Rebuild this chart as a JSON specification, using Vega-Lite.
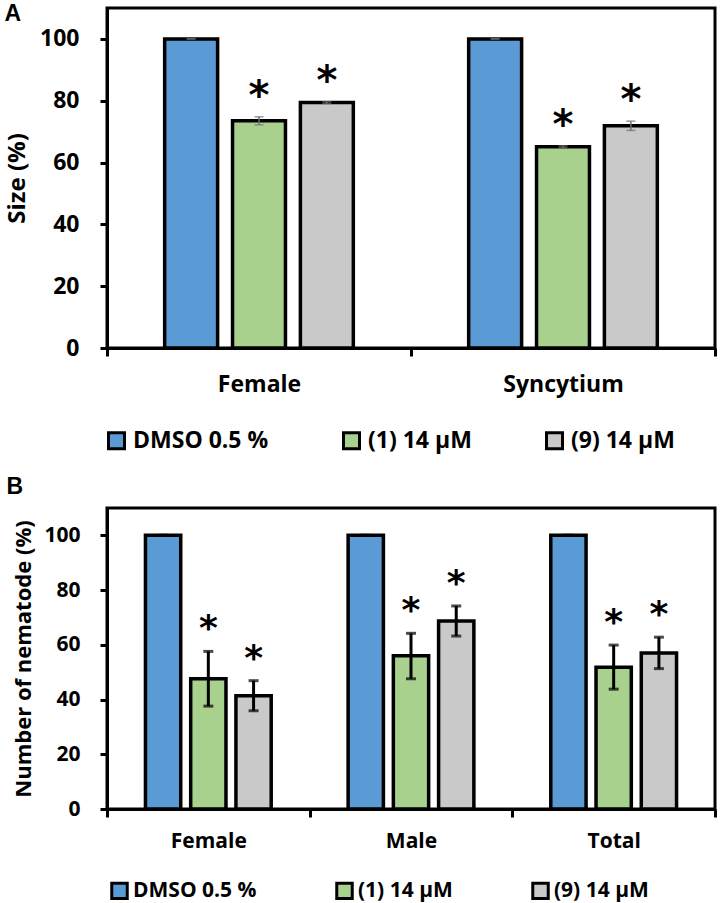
{
  "$schema": "https://vega.github.io/schema/vega-lite/v6.json",
  "padding": {"left": 2, "top": 0, "right": 0, "bottom": 25},
  "background": "white",
  "spacing": 160,
  "bounds": "flush",
  "resolve": {"scale": {"color": "independent", "xOffset": "independent", "x": "independent", "y": "independent"}, "legend": {"color": "independent"}},
  "datasets": {
    "a": [
      {"category": "Female", "treatment": "DMSO 0.5 %", "value": 100, "lo": 100, "hi": 100, "sig": ""},
      {"category": "Female", "treatment": "(1) 14 µM", "value": 73.5, "lo": 72.2, "hi": 74.8, "sig": "*"},
      {"category": "Female", "treatment": "(9) 14 µM", "value": 79.4, "lo": 79.1, "hi": 79.7, "sig": "*"},
      {"category": "Syncytium", "treatment": "DMSO 0.5 %", "value": 100, "lo": 100, "hi": 100, "sig": ""},
      {"category": "Syncytium", "treatment": "(1) 14 µM", "value": 65.1, "lo": 64.8, "hi": 65.4, "sig": "*"},
      {"category": "Syncytium", "treatment": "(9) 14 µM", "value": 71.9, "lo": 70.4, "hi": 73.4, "sig": "*"}
    ],
    "b": [
      {"category": "Female", "treatment": "DMSO 0.5 %", "value": 100, "lo": 100, "hi": 100, "sig": ""},
      {"category": "Female", "treatment": "(1) 14 µM", "value": 47.6, "lo": 37.6, "hi": 57.6, "sig": "*"},
      {"category": "Female", "treatment": "(9) 14 µM", "value": 41.4, "lo": 35.9, "hi": 46.9, "sig": "*"},
      {"category": "Male", "treatment": "DMSO 0.5 %", "value": 100, "lo": 100, "hi": 100, "sig": ""},
      {"category": "Male", "treatment": "(1) 14 µM", "value": 56.0, "lo": 47.6, "hi": 64.2, "sig": "*"},
      {"category": "Male", "treatment": "(9) 14 µM", "value": 68.7, "lo": 63.2, "hi": 74.2, "sig": "*"},
      {"category": "Total", "treatment": "DMSO 0.5 %", "value": 100, "lo": 100, "hi": 100, "sig": ""},
      {"category": "Total", "treatment": "(1) 14 µM", "value": 51.8, "lo": 43.8, "hi": 59.9, "sig": "*"},
      {"category": "Total", "treatment": "(9) 14 µM", "value": 57.0, "lo": 51.3, "hi": 62.8, "sig": "*"}
    ]
  },
  "vconcat": [
    {
      "width": 608,
      "height": 340,
      "data": {"name": "a"},
      "encoding": {
        "x": {"field": "category", "type": "nominal", "sort": ["Female", "Syncytium"],
              "scale": {"paddingInner": 0, "paddingOuter": 0},
              "axis": {"title": "A", "titleX": -103, "titleY": -328, "titleAngle": 0, "titleAlign": "left", "titleBaseline": "alphabetic",
                       "titleFont": "Liberation Sans", "titleFontSize": 23,
                       "labelAngle": 0, "tickBand": "extent", "tickSize": 8, "labelPadding": 17, "labelFontSize": 23}},
        "xOffset": {"field": "treatment", "type": "nominal", "sort": ["DMSO 0.5 %", "(1) 14 µM", "(9) 14 µM"],
                    "scale": {"paddingInner": 0.22, "paddingOuter": 0.85}}
      },
      "layer": [
        {
          "mark": {"type": "bar", "stroke": "black", "strokeWidth": 3.5},
          "encoding": {
            "y": {"field": "value", "type": "quantitative",
                  "scale": {"domain": [0, 110], "nice": false},
                  "axis": {"title": "Size (%)", "values": [0, 20, 40, 60, 80, 100], "tickSize": 7, "labelPadding": 21, "labelFontSize": 23, "titleFontSize": 24, "titlePadding": 10}},
            "color": {"field": "treatment", "type": "nominal",
                      "scale": {"domain": ["DMSO 0.5 %", "(1) 14 µM", "(9) 14 µM"], "range": ["#5B9BD5", "#A9D18E", "#C9C9C9"]},
                      "legend": {"title": null, "orient": "none", "direction": "horizontal", "legendX": -2, "legendY": 421,
                                 "symbolType": "square", "symbolSize": 256, "symbolStrokeColor": "black", "symbolStrokeWidth": 3,
                                 "labelFontSize": 23, "labelFont": "Open Sans", "labelFontWeight": "bold", "labelColor": "black",
                                 "columnPadding": 68, "labelOffset": 5, "padding": 0, "labelLimit": 300}}
          }
        },
        {
          "mark": {"type": "rule", "color": "#6f6f6f", "strokeWidth": 1.5},
          "encoding": {"y": {"field": "lo", "type": "quantitative"}, "y2": {"field": "hi"}}
        },
        {
          "mark": {"type": "tick", "orient": "horizontal", "size": 9, "thickness": 1.5, "color": "#6f6f6f"},
          "encoding": {"y": {"field": "hi", "type": "quantitative"}}
        },
        {
          "mark": {"type": "tick", "orient": "horizontal", "size": 9, "thickness": 1.5, "color": "#6f6f6f"},
          "encoding": {"y": {"field": "lo", "type": "quantitative"}}
        },
        {
          "transform": [{"filter": "datum.sig == '*'"}],
          "mark": {"type": "text", "font": "DejaVu Sans", "fontWeight": "bold", "fontSize": 40, "color": "black", "baseline": "alphabetic", "dy": -8},
          "encoding": {"y": {"field": "hi", "type": "quantitative"}, "text": {"field": "sig"}}
        }
      ]
    },
    {
      "width": 608,
      "height": 301,
      "data": {"name": "b"},
      "encoding": {
        "x": {"field": "category", "type": "nominal", "sort": ["Female", "Male", "Total"],
              "scale": {"paddingInner": 0, "paddingOuter": 0},
              "axis": {"title": "B", "titleX": -101, "titleY": -316, "titleAngle": 0, "titleAlign": "left", "titleBaseline": "alphabetic",
                       "titleFont": "Liberation Sans", "titleFontSize": 23,
                       "labelAngle": 0, "tickBand": "extent", "tickSize": 8, "labelPadding": 13, "labelFontSize": 21}},
        "xOffset": {"field": "treatment", "type": "nominal", "sort": ["DMSO 0.5 %", "(1) 14 µM", "(9) 14 µM"],
                    "scale": {"paddingInner": 0.22, "paddingOuter": 0.85}}
      },
      "layer": [
        {
          "mark": {"type": "bar", "stroke": "black", "strokeWidth": 3.5},
          "encoding": {
            "y": {"field": "value", "type": "quantitative",
                  "scale": {"domain": [0, 110], "nice": false},
                  "axis": {"title": "Number of nematode (%)", "values": [0, 20, 40, 60, 80, 100], "tickSize": 7, "labelPadding": 20, "labelFontSize": 21, "titleFontSize": 22, "titlePadding": 8}},
            "color": {"field": "treatment", "type": "nominal",
                      "scale": {"domain": ["DMSO 0.5 %", "(1) 14 µM", "(9) 14 µM"], "range": ["#5B9BD5", "#A9D18E", "#C9C9C9"]},
                      "legend": {"title": null, "orient": "none", "direction": "horizontal", "legendX": 2, "legendY": 372,
                                 "symbolType": "square", "symbolSize": 240, "symbolStrokeColor": "black", "symbolStrokeWidth": 3,
                                 "labelFontSize": 21, "labelFont": "Open Sans", "labelFontWeight": "bold", "labelColor": "black",
                                 "columnPadding": 73, "labelOffset": 3, "padding": 0, "labelLimit": 300}}
          }
        },
        {
          "mark": {"type": "rule", "color": "black", "strokeWidth": 3},
          "encoding": {"y": {"field": "lo", "type": "quantitative"}, "y2": {"field": "hi"}}
        },
        {
          "mark": {"type": "tick", "orient": "horizontal", "size": 10, "thickness": 3, "color": "black"},
          "encoding": {"y": {"field": "hi", "type": "quantitative"}}
        },
        {
          "mark": {"type": "tick", "orient": "horizontal", "size": 10, "thickness": 3, "color": "black"},
          "encoding": {"y": {"field": "lo", "type": "quantitative"}}
        },
        {
          "transform": [{"filter": "datum.sig == '*'"}],
          "mark": {"type": "text", "font": "DejaVu Sans", "fontWeight": "bold", "fontSize": 36, "color": "black", "baseline": "alphabetic", "dy": -11},
          "encoding": {"y": {"field": "hi", "type": "quantitative"}, "text": {"field": "sig"}}
        }
      ]
    }
  ],
  "config": {
    "font": "Open Sans",
    "view": {"stroke": "black", "strokeWidth": 3},
    "axis": {"grid": false, "domainColor": "black", "domainWidth": 3, "tickColor": "black", "tickWidth": 3,
             "labelColor": "black", "titleColor": "black", "labelFont": "Open Sans", "titleFont": "Open Sans",
             "labelFontWeight": "bold", "titleFontWeight": "bold"}
  }
}
